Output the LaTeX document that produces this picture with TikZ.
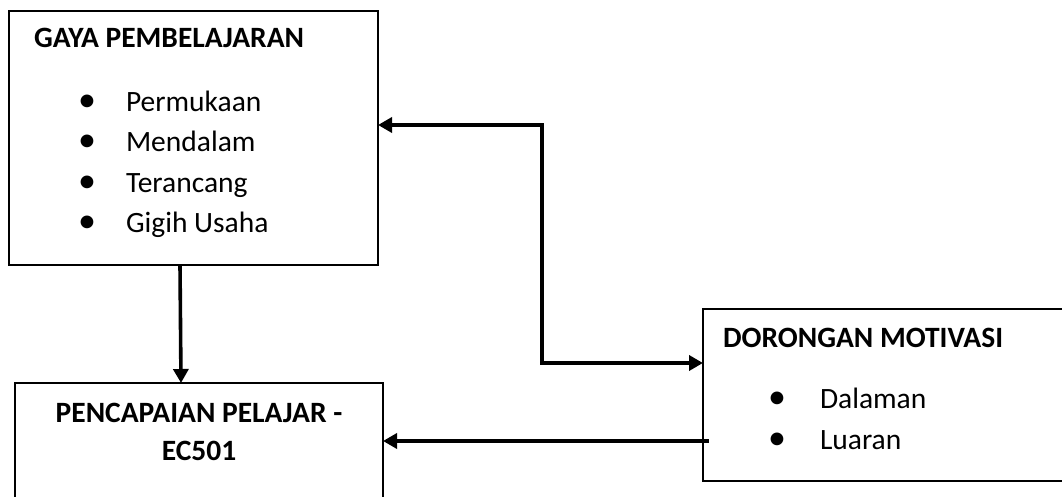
\documentclass[tikz,border=0pt]{standalone}
\usepackage{fontspec}
\setmainfont{Carlito}
\usetikzlibrary{arrows.meta}
\begin{document}
\begin{tikzpicture}[x=1pt,y=-1pt,
  box/.style={draw=black,line width=1.3pt,inner sep=0pt,outer sep=0pt,anchor=north west},
  txt/.style={inner sep=0pt,outer sep=0pt,anchor=base west,font=\fontsize{29.5}{35}\selectfont},
  ttl/.style={txt,font=\fontsize{29.5}{35}\selectfont\bfseries},
  bul/.style={inner sep=0pt,outer sep=0pt,anchor=base,font=\fontsize{36}{35}\selectfont},
  arr/.style={line width=3.6pt,-{Triangle[length=14pt,width=15pt]}},
  darr/.style={line width=3.6pt,{Triangle[length=14pt,width=15pt]}-{Triangle[length=14pt,width=15pt]}}]
\useasboundingbox (0,0) rectangle (1062,497);
\fill[white] (0,0) rectangle (1062,497);
% boxes
\node[box,minimum width=369pt,minimum height=254pt] (gaya) at (9,11) {};
\node[box,minimum width=368pt,minimum height=140pt] (capai) at (15,383) {};
\node[box,minimum width=400pt,minimum height=172pt] (dorong) at (703,309) {};
% texts box 1
\node[ttl] (t1) at (34,48) {GAYA PEMBELAJARAN};
\node[bul] (b11) at (87,112) {•};
\node[txt] (i11) at (126,112) {Permukaan};
\node[bul] (b12) at (87,152) {•};
\node[txt] (i12) at (126,152) {Mendalam};
\node[bul] (b13) at (87,193) {•};
\node[txt] (i13) at (126,193) {Terancang};
\node[bul] (b14) at (87,232) {•};
\node[txt] (i14) at (126,232) {Gigih Usaha};
% texts box 2
\node[ttl,anchor=base] (t2a) at (199,422) {PENCAPAIAN PELAJAR -};
\node[ttl,anchor=base] (t2b) at (199,460) {EC501};
% texts box 3
\node[ttl] (t3) at (723,347) {DORONGAN MOTIVASI};
\node[bul] (b31) at (777,408) {•};
\node[txt] (i31) at (820,408) {Dalaman};
\node[bul] (b32) at (777,449) {•};
\node[txt] (i32) at (820,449) {Luaran};
% connectors
\coordinate (mid) at (542,0);
\coordinate (A) at ([yshift=13pt]gaya.east);
\coordinate (B) at ([yshift=32pt]dorong.west);
\draw[darr] (A) -- (A -| mid) -- (B -| mid) -- (B);
\draw[arr] ([xshift=-13.5pt]gaya.south) -- ([xshift=-18pt]capai.north);
\coordinate (C) at ([xshift=6pt,yshift=-46pt]dorong.west);
\draw[arr] (C) -- (C -| capai.east);
\end{tikzpicture}
\end{document}
